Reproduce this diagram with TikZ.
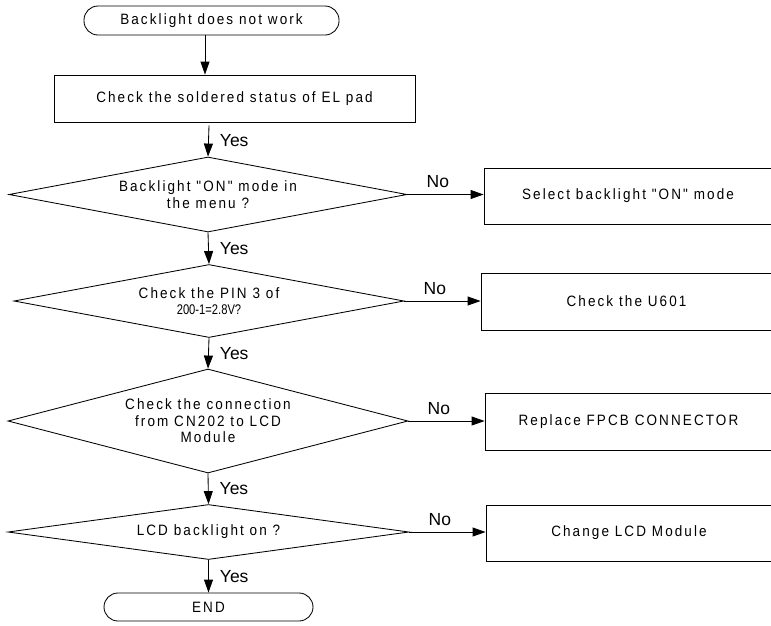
\documentclass[tikz,border=0pt]{standalone}
\usepackage{fontspec}
\setmainfont{Liberation Sans}[Ligatures=TeXOff,FakeStretch=0.9,LetterSpace=14]
\newfontfamily\lblfont{Liberation Sans}
\newfontfamily\smallfont{Liberation Sans}[FakeStretch=0.8]
\usetikzlibrary{shapes.geometric,arrows.meta,calc}
\begin{document}
\begin{tikzpicture}[x=1pt,y=-1pt,
  every node/.style={font=\fontsize{15}{16.5}\selectfont},
  line/.style={line width=0.85pt,draw=black},
  term/.style={line, rectangle, rounded corners=14pt, inner sep=0pt, align=center},
  proc/.style={line, rectangle, inner sep=0pt, align=center},
  dec/.style={line, diamond, aspect=5.3, inner sep=0pt, align=center},
  arr/.style={line width=0.85pt, -{Triangle[length=13pt,width=9pt]}},
  yes/.style={midway, right=11pt, inner sep=0pt, font=\lblfont\fontsize{17.5}{17.5}\selectfont},
  no/.style={pos=0.4, above=6pt, inner sep=0pt, font=\lblfont\fontsize{17.5}{17.5}\selectfont}]
\useasboundingbox (0,0) rectangle (771,625);
\coordinate (colA) at (205,0);
\coordinate (col) at (209,0);
% left column
\node[term, minimum width=255pt, minimum height=29pt] (start) at (211.5,20.5) {Backlight does not work};
\node[proc, minimum width=361pt, minimum height=47pt] (b1) at (234.5,98.5) {Check the soldered status of EL pad};
\node[dec, minimum width=398pt, minimum height=75pt] (d1) at (208,194.5) {Backlight "ON" mode in\\the menu ?};
\node[dec, minimum width=390pt, minimum height=73pt] (d2) at (209,301) {Check the PIN 3 of\\{\smallfont\fontsize{14}{16}\selectfont 200-1=2.8V?}};
\node[dec, minimum width=400pt, minimum height=104pt] (d3) at (208,421) {Check the connection\\from CN202 to LCD\\Module};
\node[dec, minimum width=401pt, minimum height=55pt, aspect=7.3] (d4) at (208.5,532) {LCD backlight on ?};
\node[term, minimum width=209pt, minimum height=28pt] (end) at (208.5,607) {END};
% right column
\node[proc, minimum width=288pt, minimum height=56pt] (s1) at (628,196) {Select backlight "ON" mode};
\node[proc, minimum width=291pt, minimum height=57pt] (s2) at (626.5,301.5) {Check the U601};
\node[proc, minimum width=287pt, minimum height=57pt] (s3) at (628.5,421.5) {Replace FPCB CONNECTOR};
\node[proc, minimum width=286pt, minimum height=56pt] (s4) at (629,533) {Change LCD Module};
% connectors
\draw[arr] (start.south -| colA) -- (b1.north -| colA);
\draw[arr] ($(b1.south -| col)+(0,3)$) -- node[yes]{Yes} (d1.north);
\draw[arr] (d1.south) -- node[yes]{Yes} (d2.north);
\draw[arr] (d2.south) -- node[yes]{Yes} (d3.north);
\draw[arr] (d3.south) -- node[yes]{Yes} (d4.north);
\draw[arr] (d4.south) -- node[yes]{Yes} (end.north);
\draw[arr] (d1.east) -- node[no]{No} (d1.east -| s1.west);
\draw[arr] (d2.east) -- node[no]{No} (d2.east -| s2.west);
\draw[arr] (d3.east) -- node[no]{No} (d3.east -| s3.west);
\draw[arr] (d4.east) -- node[no]{No} (d4.east -| s4.west);
\end{tikzpicture}
\end{document}
